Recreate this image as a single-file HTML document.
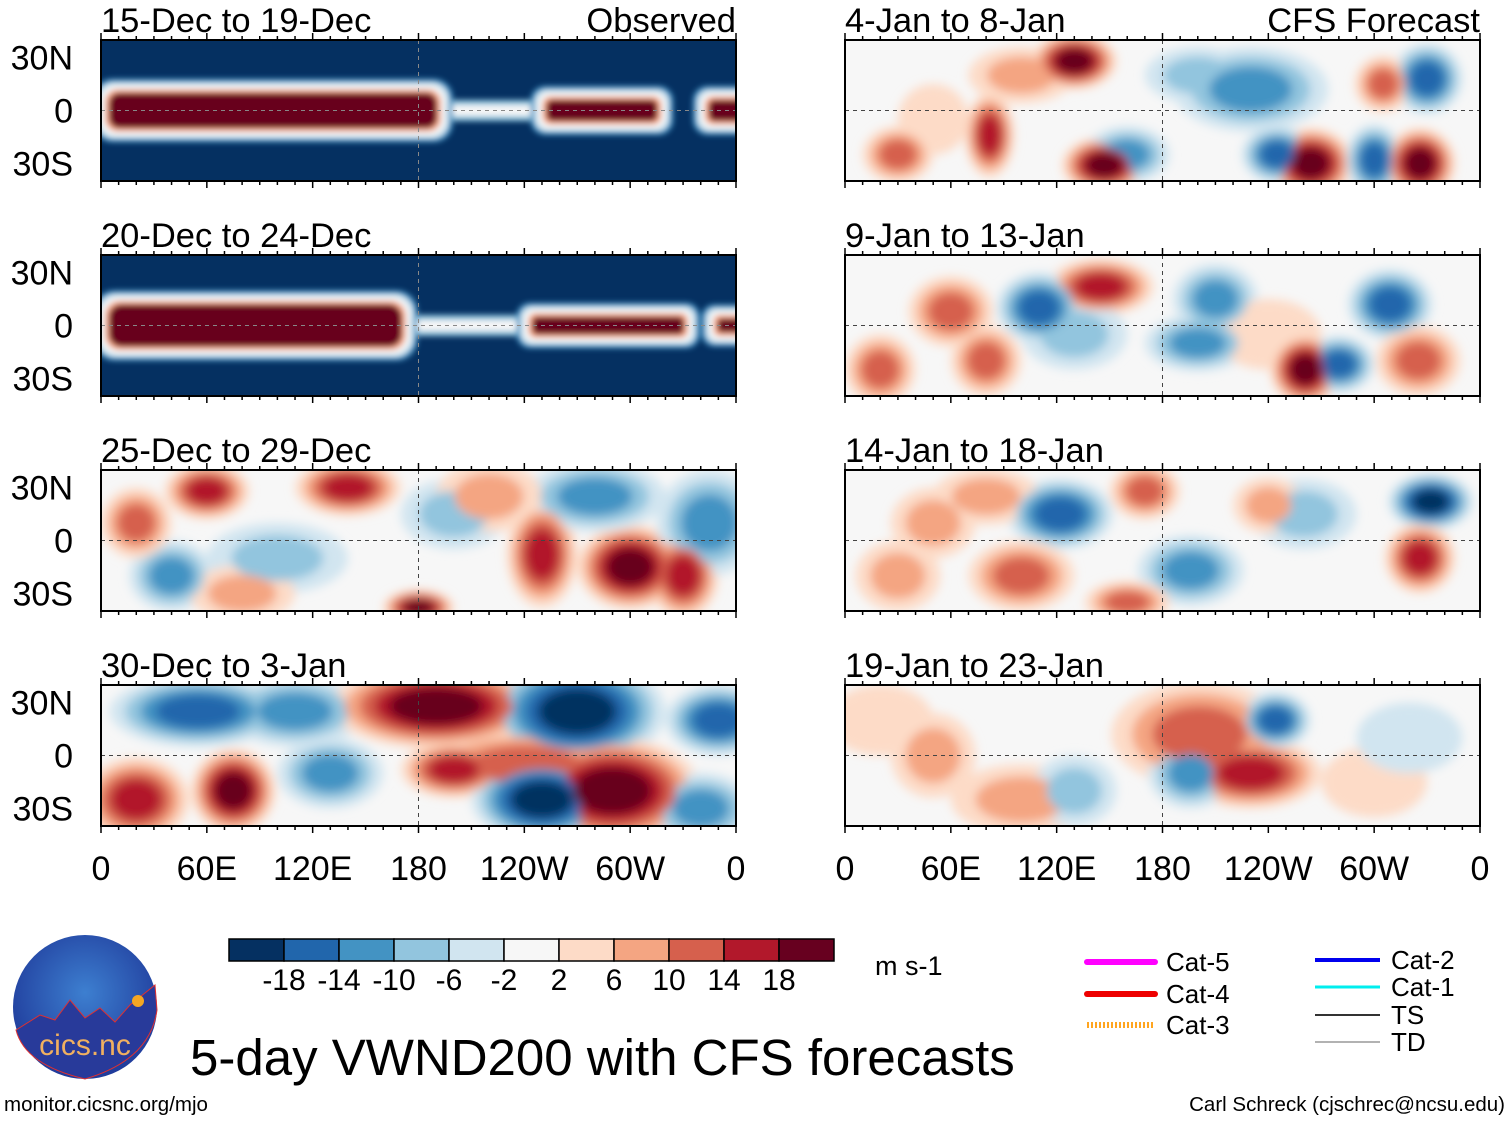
<!DOCTYPE html>
<html><head><meta charset="utf-8">
<style>
body{margin:0;background:#fff;width:1510px;height:1121px;overflow:hidden;font-family:"Liberation Sans",sans-serif;}
svg text{font-family:"Liberation Sans",sans-serif;}
</style></head>
<body>
<svg id="chart" width="1510" height="1121" viewBox="0 0 1510 1121" xmlns="http://www.w3.org/2000/svg">
<defs>
<filter id="blur" x="-50%" y="-50%" width="200%" height="200%"><feGaussianBlur stdDeviation="5"/></filter>
<filter id="blur2" x="-50%" y="-50%" width="200%" height="200%"><feGaussianBlur stdDeviation="3"/></filter>
<radialGradient id="logo-grad" cx="50%" cy="40%" r="60%"><stop offset="0" stop-color="#3d7fd0"/><stop offset="1" stop-color="#1f3a9a"/></radialGradient>
</defs>
<g id="panels"></g>
<g id="colorbar"></g>
<text x="875" y="975" font-size="27">m s-1</text>
<g>
 <line x1="1087" y1="962" x2="1155" y2="962" stroke="#ff00ff" stroke-width="6" stroke-linecap="round"/>
 <text x="1166" y="971" font-size="26">Cat-5</text>
 <line x1="1087" y1="994" x2="1155" y2="994" stroke="#ee0000" stroke-width="6" stroke-linecap="round"/>
 <text x="1166" y="1003" font-size="26">Cat-4</text>
 <line x1="1087" y1="1025" x2="1155" y2="1025" stroke="#ffa520" stroke-width="6" stroke-dasharray="2 2"/>
 <text x="1166" y="1034" font-size="26">Cat-3</text>
 <line x1="1315" y1="960" x2="1380" y2="960" stroke="#0000ee" stroke-width="4"/>
 <text x="1391" y="969" font-size="26">Cat-2</text>
 <line x1="1315" y1="987" x2="1380" y2="987" stroke="#00eeee" stroke-width="3"/>
 <text x="1391" y="996" font-size="26">Cat-1</text>
 <line x1="1315" y1="1015" x2="1380" y2="1015" stroke="#333" stroke-width="2"/>
 <text x="1391" y="1024" font-size="26">TS</text>
 <line x1="1315" y1="1042" x2="1380" y2="1042" stroke="#999" stroke-width="1.5"/>
 <text x="1391" y="1051" font-size="26">TD</text>
</g>
<g>
 <circle cx="85" cy="1007" r="72" fill="url(#logo-grad)"/>
 <path d="M16 1030 L40 1015 L55 1020 L70 1000 L85 1018 L100 1008 L115 1022 L130 1005 L155 985 L157 1010 Q150 1060 85 1079 Q25 1065 16 1030Z" fill="#283a9a" stroke="#e03030" stroke-width="1"/>
 <circle cx="138" cy="1001" r="6" fill="#f5a623"/>
 <text x="85" y="1055" font-size="30" fill="#f0b060" text-anchor="middle">cics.nc</text>
</g>
<text x="190" y="1075" font-size="51">5-day VWND200 with CFS forecasts</text>
<text x="4" y="1111" font-size="20.5">monitor.cicsnc.org/mjo</text>
<text x="1505" y="1111" font-size="20.5" text-anchor="end">Carl Schreck (cjschrec@ncsu.edu)</text>
</svg>
<script>
const colors=["#053061","#2166ac","#4393c3","#92c5de","#d1e5f0","#f7f7f7","#fddbc7","#f4a582","#d6604d","#b2182b","#67001f"];
const cbLabels=["-18","-14","-10","-6","-2","2","6","10","14","18"];
const xTickLabels=["0","60E","120E","180","120W","60W","0"];
const xTickLons=[0,60,120,180,240,300,360];
const yTickLabels=["30N","0","30S"];
const yTickLats=[30,0,-30];
const titles=["15-Dec to 19-Dec","20-Dec to 24-Dec","25-Dec to 29-Dec","30-Dec to 3-Jan","4-Jan to 8-Jan","9-Jan to 13-Jan","14-Jan to 18-Jan","19-Jan to 23-Jan"];
// blobs: [lon, lat, lonRadius, latRadius, colorIndex]
const blobs=[
 [],[],
 [[60,28,12,8,9],[140,30,15,8,9],[40,-20,12,10,2],[100,-10,20,10,3],[250,-8,10,15,9],[300,-15,15,12,10],[330,-20,10,12,9],[345,10,15,15,2],[280,25,20,10,2],[200,15,15,10,3],[20,10,10,10,8],[180,-38,10,5,10],[220,25,15,10,7],[80,-30,15,8,7]],
 [[55,25,25,10,1],[110,25,20,10,2],[190,28,30,12,10],[270,25,25,15,0],[200,-8,15,8,9],[240,-5,30,10,8],[75,-20,12,12,10],[290,-20,25,15,10],[250,-25,20,12,0],[20,-25,15,12,9],[350,20,15,10,1],[130,-10,15,10,2],[340,-30,15,10,2]],
 [[130,28,12,8,10],[230,12,22,12,2],[330,18,10,10,1],[305,15,8,8,8],[82,-14,7,12,9],[30,-25,10,8,8],[147,-31,12,8,10],[160,-25,12,8,2],[264,-30,12,10,10],[245,-25,10,8,1],[300,-28,8,10,1],[326,-30,10,10,10],[200,20,15,8,3],[100,20,15,8,7],[50,-5,10,10,6]],
 [[145,22,15,8,9],[60,8,12,10,8],[210,15,12,10,2],[309,12,12,10,1],[110,10,12,10,1],[80,-20,10,10,8],[261,-25,10,10,10],[280,-22,10,8,1],[200,-10,15,8,2],[325,-20,12,10,8],[20,-25,10,10,8],[130,-5,15,10,3],[240,-5,15,10,6]],
 [[122,15,15,10,1],[196,-17,15,10,2],[100,-20,15,10,8],[50,10,12,10,7],[332,22,12,8,0],[326,-10,10,10,9],[260,15,15,10,3],[240,20,10,8,7],[160,-35,12,6,8],[30,-20,12,10,7],[80,25,15,8,7],[170,28,10,8,8]],
 [[201,12,25,15,8],[230,-10,20,10,9],[244,20,10,8,1],[196,-10,12,10,2],[100,-25,20,10,7],[50,0,12,12,7],[130,-20,12,10,3],[300,-15,15,10,6],[320,10,15,10,4],[20,20,15,10,6]]
];
const P=[];
for(let i=0;i<8;i++){P.push({x:i<4?101:845,y:[40,255,470,685][i%4],w:635,h:141,title:titles[i]});}
const root=document.getElementById('panels');
const NS="http://www.w3.org/2000/svg";
function mk(t,a,p){const e=document.createElementNS(NS,t);for(const k in a)e.setAttribute(k,a[k]);(p||root).appendChild(e);return e;}
P.forEach((p,i)=>{
 const g=mk('g',{});
 
 
 const X=lon=>p.x+lon/360*p.w, Y=lat=>p.y+p.h/2-lat/40*(p.h/2);
 const cid='clip'+i;
 const cp=mk('clipPath',{id:cid},g);mk('rect',{x:p.x,y:p.y,width:p.w,height:p.h},cp);
 const inner=mk('g',{'clip-path':'url(#'+cid+')'},g);
 if(i<2){
  mk('rect',{x:p.x,y:p.y,width:p.w,height:p.h,fill:colors[0]},inner);
  const bands=i==0?[[0,195,14],[248,320,10],[340,370,10]]:[[0,175,16],[240,335,9],[345,370,8]];
  const bg=mk('g',{filter:'url(#blur2)'},inner);
  mk('rect',{x:X(170),y:Y(6),width:X(260)-X(170),height:Y(-6)-Y(6),rx:6,fill:colors[3]},bg);
  mk('rect',{x:X(175),y:Y(3),width:X(255)-X(175),height:Y(-3)-Y(3),fill:colors[5]},bg);
  bands.forEach(b=>{
   [[4,2],[2,4],[0,5],[-2,7],[-4,10]].forEach(([d,c])=>{
    const hh=(b[2]+d)/40*p.h/2;
    mk('rect',{x:X(b[0])-d*2,y:Y(0)-hh,width:X(b[1])-X(b[0])+d*4,height:hh*2,rx:hh*0.6,fill:colors[c]},bg);
   });
  });
 } else {
  mk('rect',{x:p.x,y:p.y,width:p.w,height:p.h,fill:"#f7f7f7"},inner);
  const bg=mk('g',{filter:'url(#blur)'},inner);
  const list=blobs[i]||[];
  for(let s=0;s<=5;s++){
   list.forEach(b=>{
    const c=b[4], side=c<5?1:-1, steps=Math.abs(c-5);
    if(s>=steps) return;
    const f=1-s/steps*0.7;
    mk('ellipse',{cx:X(b[0]),cy:Y(b[1]),rx:b[2]/360*p.w*f*2.0,ry:b[3]/40*p.h/2*f*2.0,fill:colors[5-side*(s+1)]},bg);
   });
  }
 }
 mk('line',{x1:p.x,y1:Y(0),x2:p.x+p.w,y2:Y(0),stroke:i<2?"#888":"#444","stroke-dasharray":"4 4","stroke-width":1},inner);
 mk('line',{x1:X(180),y1:p.y,x2:X(180),y2:p.y+p.h,stroke:i<2?"#888":"#444","stroke-dasharray":"4 4","stroke-width":1},inner);
 mk('rect',{x:p.x,y:p.y,width:p.w,height:p.h,fill:"none",stroke:"#000","stroke-width":2},g);
 for(let l=0;l<=360;l+=10){const len=l%60==0?7:4;mk('line',{x1:X(l),y1:p.y,x2:X(l),y2:p.y-len,stroke:"#000","stroke-width":1.5},g);mk('line',{x1:X(l),y1:p.y+p.h,x2:X(l),y2:p.y+p.h+len,stroke:"#000","stroke-width":1.5},g);}
 const t=mk('text',{x:p.x,y:p.y-8,'font-size':34.5},g);t.textContent=p.title;
 if(i==0||i==4){const t2=mk('text',{x:p.x+p.w,y:p.y-8,'font-size':34.5,'text-anchor':'end'},g);t2.textContent=i==0?"Observed":"CFS Forecast";}
 if(i<4){yTickLabels.forEach((lab,k)=>{const t3=mk('text',{x:73,y:Y(yTickLats[k])+12,'font-size':34,'text-anchor':'end'},g);t3.textContent=lab;});}
 if(i%4==3){xTickLabels.forEach((lab,k)=>{const t4=mk('text',{x:X(xTickLons[k]),y:880,'font-size':34,'text-anchor':'middle'},g);t4.textContent=lab;});}
});
const cb=document.getElementById('colorbar');
colors.forEach((c,k)=>{
 const r=mk('rect',{x:229+k*55,y:939,width:55,height:22,fill:c,stroke:"#000","stroke-width":1.5},cb);
 
 
});
cbLabels.forEach((l,k)=>{const t=mk('text',{x:284+k*55,y:990,'font-size':30,'text-anchor':'middle'},cb);t.textContent=l;});
</script>
</body></html>
